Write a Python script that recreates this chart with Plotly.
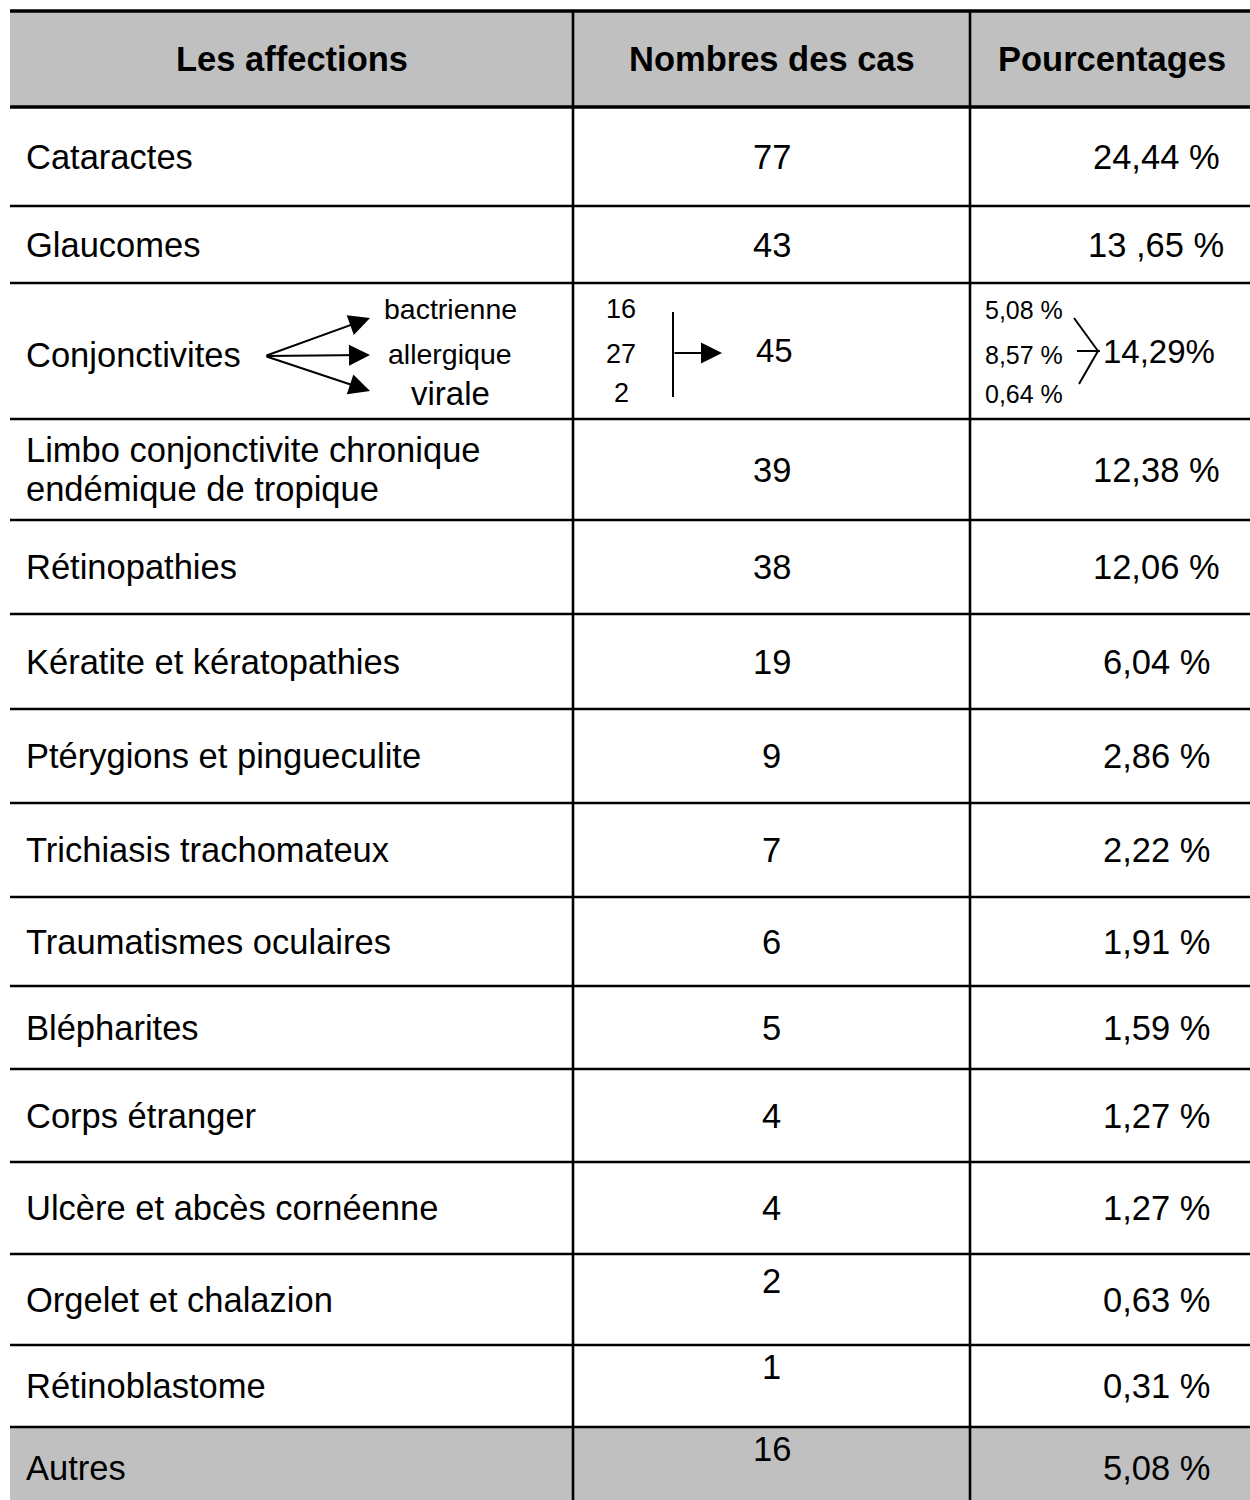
import plotly.graph_objects as go

# ---------------- data ----------------
headers = ["Les affections", "Nombres des cas", "Pourcentages"]
affections = [
    "Cataractes", "Glaucomes", "Conjonctivites",
    "Limbo conjonctivite chronique<br>endémique de tropique",
    "Rétinopathies", "Kératite et kératopathies", "Ptérygions et pingueculite",
    "Trichiasis trachomateux", "Traumatismes oculaires", "Blépharites",
    "Corps étranger", "Ulcère et abcès cornéenne", "Orgelet et chalazion",
    "Rétinoblastome", "Autres",
]
nombres = [77, 43, 45, 39, 38, 19, 9, 7, 6, 5, 4, 4, 2, 1, 16]
pourcentages = [
    "24,44 %", "13 ,65 %", "14,29%", "12,38 %", "12,06 %", "6,04 %", "2,86 %",
    "2,22 %", "1,91 %", "1,59 %", "1,27 %", "1,27 %", "0,63 %", "0,31 %", "5,08 %",
]
conj_types = ["bactrienne", "allergique", "virale"]
conj_nombres = [16, 27, 2]
conj_pourcentages = ["5,08 %", "8,57 %", "0,64 %"]

# ---------------- layout constants ----------------
W, H = 1250, 1500
FONT = "Liberation Sans, Arial, Helvetica, sans-serif"
GREY = "#C0C0C0"
row_edges = [11, 107, 206, 283, 419, 520, 614, 709, 803, 897, 986, 1069,
             1162, 1254, 1345, 1427, 1508]
col_edges = [10, 573, 970, 1254]
CONJ = 2
raised_rows = {12, 13, 14}
grey_rows = {14}
FS = 34.5
LINE_GAP = 39

fig = go.Figure()
shapes = []
ann = []

# header background
shapes.append(dict(type="rect", x0=col_edges[0], x1=col_edges[-1], y0=row_edges[0],
                   y1=row_edges[1], fillcolor=GREY, line_width=0, layer="below"))
for i in grey_rows:
    shapes.append(dict(type="rect", x0=col_edges[0], x1=col_edges[-1],
                       y0=row_edges[i + 1], y1=row_edges[i + 2],
                       fillcolor=GREY, line_width=0, layer="below"))

# horizontal lines
for k, y in enumerate(row_edges[:-1]):
    w = 3.5 if k < 2 else 2.6
    shapes.append(dict(type="line", x0=col_edges[0], x1=W + 10, y0=y, y1=y,
                       line=dict(color="black", width=w)))
# vertical lines
for x in col_edges[1:3]:
    shapes.append(dict(type="line", x0=x, x1=x, y0=row_edges[0], y1=H + 10,
                       line=dict(color="black", width=2.6)))

# header text
for j, h in enumerate(headers):
    ann.append(dict(x=(col_edges[j] + col_edges[j + 1]) / 2, y=(row_edges[0] + row_edges[1]) / 2,
                    text=f"<b>{h}</b>", showarrow=False, font=dict(size=FS)))

col2_c = (col_edges[1] + col_edges[2]) / 2
col3_c = 1156

for i, (a, n, p) in enumerate(zip(affections, nombres, pourcentages)):
    yc = (row_edges[i + 1] + row_edges[i + 2]) / 2
    if i == CONJ:
        ann.append(dict(x=24, y=355, text=a, xanchor="left", showarrow=False,
                        font=dict(size=FS)))
        ann.append(dict(x=774, y=350, text=str(n), showarrow=False, font=dict(size=33)))
        ann.append(dict(x=1101, y=351, text=p, xanchor="left", showarrow=False,
                        font=dict(size=33)))
        continue
    lines = a.split("<br>")
    y0 = yc - LINE_GAP * (len(lines) - 1) / 2
    for k, ln in enumerate(lines):
        ann.append(dict(x=24, y=y0 + k * LINE_GAP, text=ln, xanchor="left",
                        showarrow=False, font=dict(size=FS)))
    ny = yc - 19 if i in raised_rows else yc
    ann.append(dict(x=col2_c, y=ny, text=str(n), showarrow=False, font=dict(size=FS)))
    ann.append(dict(x=col3_c, y=yc, text=p, showarrow=False, font=dict(size=FS)))

# conjonctivites details
sub_y = [309, 354, 393]
tip_y = [318, 355, 391]
type_sizes = [28.5, 28.5, 33]
for t, ys, ty, fs in zip(conj_types, sub_y, tip_y, type_sizes):
    ann.append(dict(x=450, y=ys, text=t, showarrow=False, font=dict(size=fs)))
    ann.append(dict(x=370, y=ty, ax=265, ay=356,
                    axref="x", ayref="y", xref="x", yref="y", text="", showarrow=True,
                    arrowhead=2, arrowsize=2.1, arrowwidth=2, arrowcolor="black",
                    standoff=0, startstandoff=0))
for v, ys in zip(conj_nombres, sub_y):
    ann.append(dict(x=621, y=ys, text=str(v), showarrow=False, font=dict(size=27)))
for v, ys in zip(conj_pourcentages, sub_y):
    ann.append(dict(x=1024, y=ys + 1, text=v, showarrow=False, font=dict(size=25)))

# bracket + arrow in count column
shapes.append(dict(type="line", x0=673, x1=673, y0=312, y1=397,
                   line=dict(color="black", width=2)))
ann.append(dict(x=722, y=353, ax=673, ay=353, axref="x", ayref="y", xref="x", yref="y",
                text="", showarrow=True, arrowhead=2, arrowsize=2.1, arrowwidth=2,
                arrowcolor="black", standoff=0, startstandoff=0))
# ">" bracket in percentage column
shapes.append(dict(type="line", x0=1074, y0=318, x1=1098, y1=351,
                   line=dict(color="black", width=2)))
shapes.append(dict(type="line", x0=1098, y0=351, x1=1079, y1=384,
                   line=dict(color="black", width=2)))
shapes.append(dict(type="line", x0=1077, y0=351, x1=1100, y1=351,
                   line=dict(color="black", width=2)))

fig.update_layout(
    width=W, height=H,
    margin=dict(l=0, r=0, t=0, b=0),
    paper_bgcolor="white", plot_bgcolor="white",
    font=dict(family=FONT, color="black", size=FS),
    xaxis=dict(range=[0, W], visible=False, fixedrange=True),
    yaxis=dict(range=[H, 0], visible=False, fixedrange=True),
    shapes=shapes, annotations=ann, showlegend=False,
)

fig.write_html("out.html", config={"displayModeBar": False},
               post_script="document.body.style.margin='0';document.body.style.overflow='hidden';")
